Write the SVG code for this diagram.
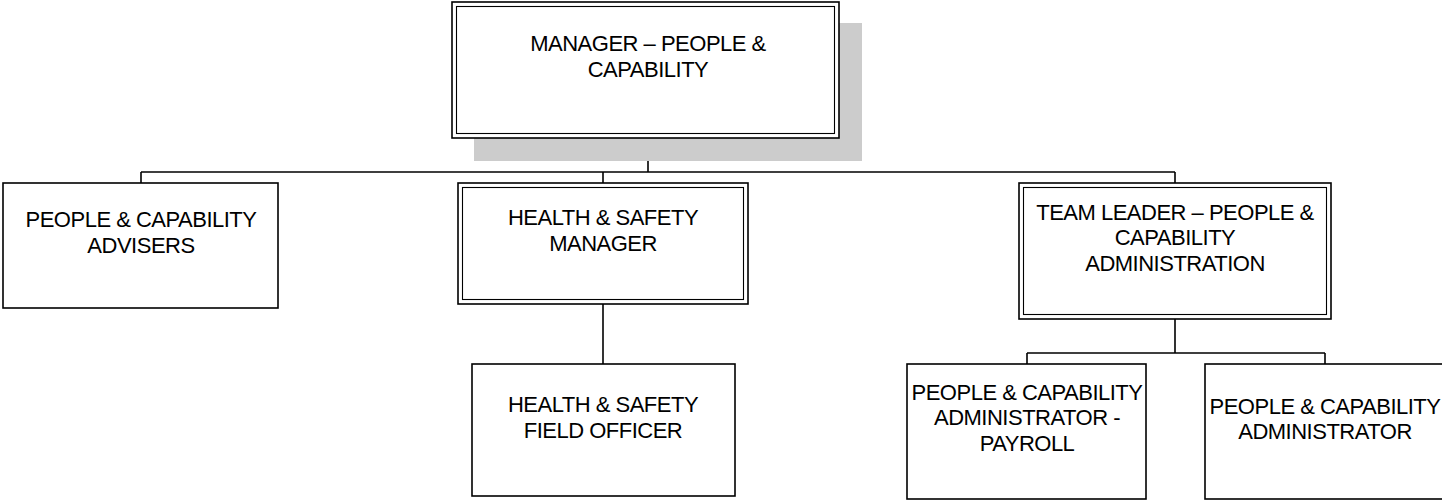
<svg xmlns="http://www.w3.org/2000/svg" width="1442" height="500" viewBox="0 0 1442 500">
<style>
.bg{fill:#ffffff}
.box{fill:#ffffff;stroke:#000000;stroke-width:1.6}
.outer{fill:#ffffff;stroke:#000000;stroke-width:1.6}
.inner{fill:none;stroke:#000000;stroke-width:1.1}
.shadow{fill:#cccccc}
.conn{fill:none;stroke:#000000;stroke-width:1.6}
text{font-family:"Liberation Sans",Arial,sans-serif;font-size:22px;letter-spacing:-0.5px;fill:#000000;text-anchor:middle}
</style>
<rect class="bg" x="0" y="0" width="1442" height="500"/>
<g id="connectors">
<path class="conn" d="M648,138 V172 M141,172 H1175 M141,172 V183 M603,172 V183 M1175,172 V183"/>
<path class="conn" d="M603,304 V364"/>
<path class="conn" d="M1175,319 V353 M1027,353 H1325 M1027,353 V364 M1325,353 V364"/>
</g>
<g id="manager">
<rect class="shadow" x="474" y="23" width="388" height="138"/>
<rect class="outer" x="452" y="2" width="387" height="136"/>
<rect class="inner" x="456.5" y="6.5" width="378" height="127"/>
<text x="648" y="51">MANAGER – PEOPLE &amp;</text>
<text x="648" y="77">CAPABILITY</text>
</g>
<g id="advisers">
<rect class="box" x="3" y="183" width="275" height="125"/>
<text x="141" y="227">PEOPLE &amp; CAPABILITY</text>
<text x="141" y="253">ADVISERS</text>
</g>
<g id="hs-manager">
<rect class="outer" x="458" y="183" width="290" height="121"/>
<rect class="inner" x="462.5" y="187.5" width="281" height="112"/>
<text x="603" y="225">HEALTH &amp; SAFETY</text>
<text x="603" y="251">MANAGER</text>
</g>
<g id="team-leader">
<rect class="outer" x="1019" y="183" width="312" height="136"/>
<rect class="inner" x="1023.5" y="187.5" width="303" height="127"/>
<text x="1175" y="220">TEAM LEADER – PEOPLE &amp;</text>
<text x="1175" y="245">CAPABILITY</text>
<text x="1175" y="271">ADMINISTRATION</text>
</g>
<g id="hs-field-officer">
<rect class="box" x="472" y="364" width="263" height="132"/>
<text x="603" y="412">HEALTH &amp; SAFETY</text>
<text x="603" y="438">FIELD OFFICER</text>
</g>
<g id="admin-payroll">
<rect class="box" x="907" y="364" width="239" height="135"/>
<text x="1027" y="400">PEOPLE &amp; CAPABILITY</text>
<text x="1027" y="425">ADMINISTRATOR -</text>
<text x="1027" y="451">PAYROLL</text>
</g>
<g id="administrator">
<rect class="box" x="1205" y="364" width="240" height="135"/>
<text x="1325" y="414">PEOPLE &amp; CAPABILITY</text>
<text x="1325" y="439">ADMINISTRATOR</text>
</g>
</svg>
